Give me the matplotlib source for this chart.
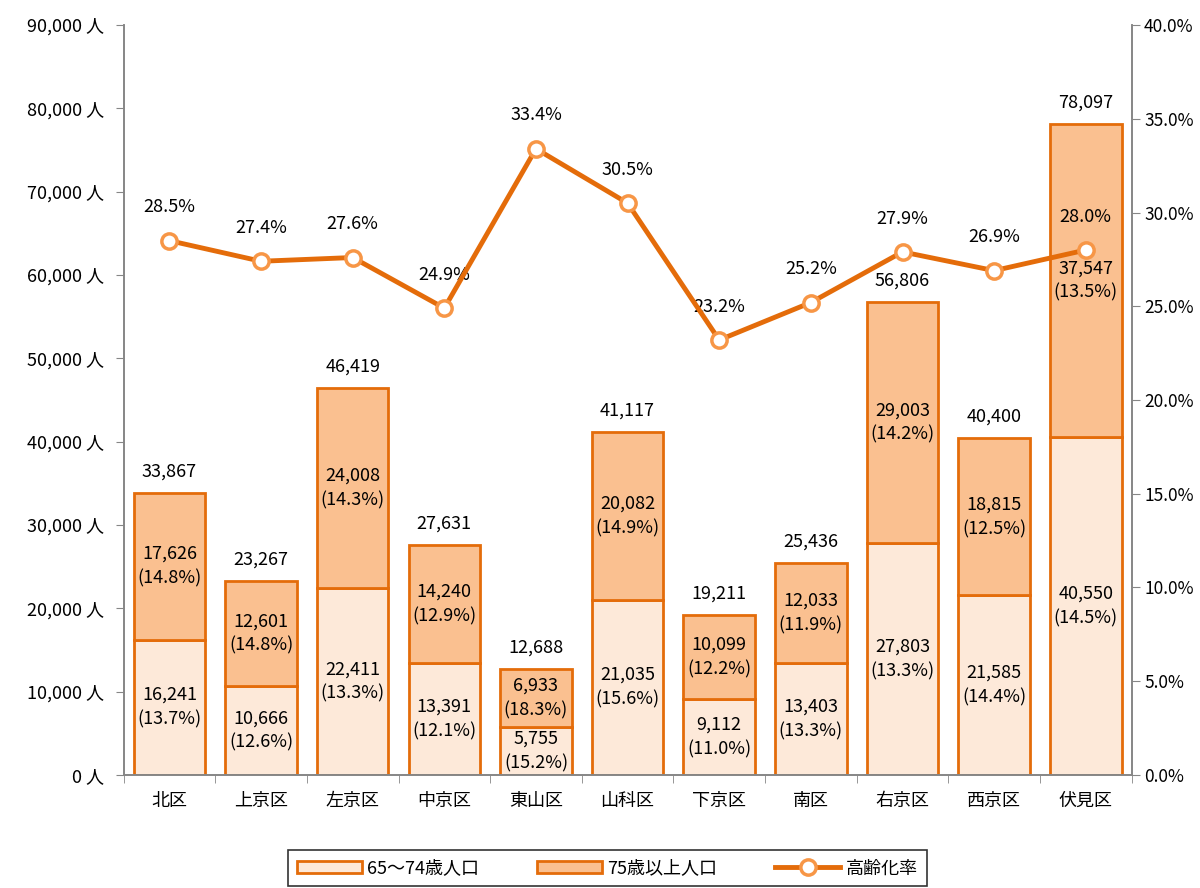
import numpy as np
import matplotlib.pyplot as plt
from matplotlib.patches import Patch
from matplotlib.lines import Line2D

plt.rcParams['font.family'] = ['Noto Sans CJK JP', 'DejaVu Sans']

districts = ['北区', '上京区', '左京区', '中京区', '東山区', '山科区', '下京区', '南区', '右京区', '西京区', '伏見区']
age65_74 = [16241, 10666, 22411, 13391, 5755, 21035, 9112, 13403, 27803, 21585, 40550]
age65_74_pct = [13.7, 12.6, 13.3, 12.1, 15.2, 15.6, 11.0, 13.3, 13.3, 14.4, 14.5]
age75 = [17626, 12601, 24008, 14240, 6933, 20082, 10099, 12033, 29003, 18815, 37547]
age75_pct = [14.8, 14.8, 14.3, 12.9, 18.3, 14.9, 12.2, 11.9, 14.2, 12.5, 13.5]
totals = [33867, 23267, 46419, 27631, 12688, 41117, 19211, 25436, 56806, 40400, 78097]
aging_rate = [28.5, 27.4, 27.6, 24.9, 33.4, 30.5, 23.2, 25.2, 27.9, 26.9, 28.0]

dark = '#E46C0A'
light_fill = '#FDE9D9'
mid_fill = '#FAC090'
marker_edge = '#F79646'
axis_gray = '#868686'

fig = plt.figure(figsize=(12, 8.88), dpi=100)
ax = fig.add_axes([0.103, 0.1273, 0.84, 0.8445])
x = np.arange(len(districts))
w = 0.78

ax.bar(x, age65_74, w, color=light_fill, edgecolor=dark, linewidth=2, zorder=2)
ax.bar(x, age75, w, bottom=age65_74, color=mid_fill, edgecolor=dark, linewidth=2, zorder=2)

fs = 13
for i in range(len(x)):
    ax.text(x[i], age65_74[i] / 2, f'{age65_74[i]:,}\n({age65_74_pct[i]:.1f}%)',
            ha='center', va='center', fontsize=fs, linespacing=1.45, zorder=3)
    ax.text(x[i], age65_74[i] + age75[i] / 2, f'{age75[i]:,}\n({age75_pct[i]:.1f}%)',
            ha='center', va='center', fontsize=fs, linespacing=1.45, zorder=3)
    ax.text(x[i], totals[i] + 1500, f'{totals[i]:,}', ha='center', va='bottom', fontsize=fs, zorder=3)

ax.set_xlim(-0.5, len(x) - 0.5)
ax.set_ylim(0, 90000)
ax.set_yticks(np.arange(0, 90001, 10000))
ax.set_yticklabels([f'{v:,} 人' for v in range(0, 90001, 10000)], fontsize=fs)
ax.set_xticks(x)
ax.set_xticklabels(districts, fontsize=fs)
ax.set_xticks(np.arange(-0.5, len(x), 1), minor=True)
ax.tick_params(axis='x', which='major', length=0, pad=12)
ax.tick_params(axis='x', which='minor', length=6, color=axis_gray)
ax.tick_params(axis='y', length=6, color=axis_gray, pad=8)

ax2 = ax.twinx()
ax2.plot(x, aging_rate, color=dark, linewidth=3.5, marker='o', markersize=11,
         markerfacecolor='white', markeredgecolor=marker_edge, markeredgewidth=2.5, zorder=5)
for i in range(len(x)):
    ax2.text(x[i], aging_rate[i] + 1.3, f'{aging_rate[i]:.1f}%', ha='center', va='bottom', fontsize=fs)
ax2.set_ylim(0, 40)
ax2.set_yticks(np.arange(0, 41, 5))
ax2.set_yticklabels([f'{v:.1f}%' for v in range(0, 41, 5)], fontsize=12.5)
ax2.tick_params(axis='y', length=6, color=axis_gray, pad=3)

for a in (ax, ax2):
    a.spines['top'].set_visible(False)
    for s in ('left', 'right', 'bottom'):
        a.spines[s].set_color(axis_gray)
        a.spines[s].set_linewidth(1.2)

handles = [
    Patch(facecolor=light_fill, edgecolor=dark, linewidth=2, label='65～74歳人口'),
    Patch(facecolor=mid_fill, edgecolor=dark, linewidth=2, label='75歳以上人口'),
    Line2D([0], [0], color=dark, linewidth=3.5, marker='o', markersize=11,
           markerfacecolor='white', markeredgecolor=marker_edge, markeredgewidth=2.5, label='高齢化率'),
]
leg = fig.legend(handles=handles, loc='center', bbox_to_anchor=(0.506, 0.022), ncol=3,
                 fontsize=fs, frameon=True, fancybox=False, edgecolor='black',
                 handlelength=3.6, handletextpad=0.3, columnspacing=3.2, borderpad=0.5,
                 borderaxespad=0)
leg.get_frame().set_linewidth(1.2)

fig.savefig('out.png', dpi=100)
